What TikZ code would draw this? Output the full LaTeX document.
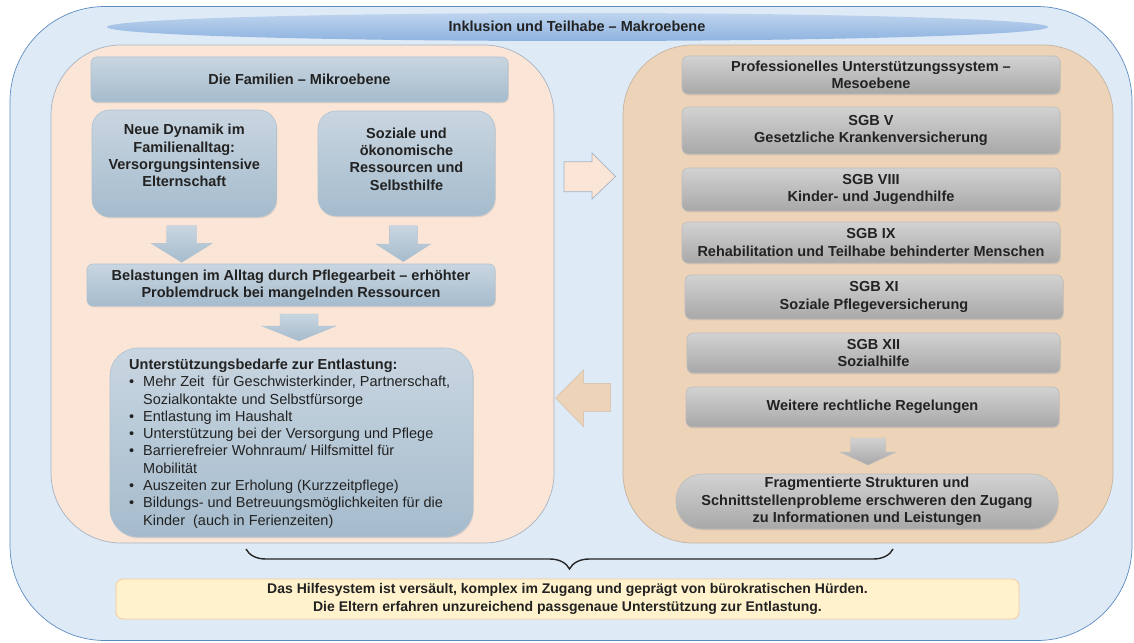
\documentclass[tikz,border=0pt]{standalone}
\usepackage{fontspec}
\setmainfont{Liberation Sans}
\usetikzlibrary{shapes.geometric,shadows,decorations.pathreplacing}
\definecolor{outerfill}{HTML}{DEEBF7}
\definecolor{outerdraw}{HTML}{5E8BC2}
\definecolor{elltop}{HTML}{BED4EE}
\definecolor{ellbot}{HTML}{8EB3E0}
\definecolor{peach}{HTML}{FBE5D6}
\definecolor{peachdraw}{HTML}{A7B3C2}
\definecolor{tan}{HTML}{EDD4B9}
\definecolor{tandraw}{HTML}{C4B4A2}
\definecolor{btop}{HTML}{C9D6E1}
\definecolor{bbot}{HTML}{A5BBCC}
\definecolor{bdraw}{HTML}{AFC2D2}
\definecolor{gtop}{HTML}{D2D2D2}
\definecolor{gbot}{HTML}{A8A8A8}
\definecolor{gdraw}{HTML}{BDBDBD}
\definecolor{yel}{HTML}{FFF2CC}
\definecolor{yeldraw}{HTML}{F6C89A}
\definecolor{txt}{HTML}{222222}
\newcommand\lblfont{\fontsize{14.5pt}{17.3pt}\selectfont\bfseries}
\newcommand\listfont{\fontsize{14.5pt}{17.3pt}\selectfont}
\newcommand\bul{\makebox[14pt][l]{•}}
\begin{document}
\begin{tikzpicture}[x=1pt,y=-1pt,
  container/.style={draw, line width=0.7pt, inner sep=0pt},
  bluebox/.style={draw=bdraw, line width=0.6pt, top color=btop, bottom color=bbot,
    rounded corners=6pt, inner sep=2pt, align=center, font=\lblfont, text=txt,
    drop shadow={opacity=0.18, shadow xshift=0.8pt, shadow yshift=-1.3pt}},
  graybox/.style={draw=gdraw, line width=0.6pt, top color=gtop, bottom color=gbot,
    rounded corners=6pt, inner sep=2pt, align=center, font=\lblfont, text=txt,
    drop shadow={opacity=0.18, shadow xshift=0.8pt, shadow yshift=-1.3pt}},
  bluearrow/.style={top color=btop, bottom color=bbot, draw=bdraw, line width=0.4pt},
  grayarrow/.style={top color=gtop, bottom color=gbot, draw=gdraw, line width=0.4pt}
]
\useasboundingbox (0,0) rectangle (1134,642);

% outer macro level
\node[container, draw=outerdraw, fill=outerfill, rounded corners=95pt,
  minimum width=1122pt, minimum height=634pt] (outer) at (571,323.5) {};
\node[ellipse, top color=elltop, bottom color=ellbot, inner sep=0pt,
  minimum width=941pt, minimum height=28pt] (makro) at (577.5,27) {};
\node[font=\lblfont, text=txt] (makrot) at (577,26) {Inklusion und Teilhabe – Makroebene};

% containers
\node[container, draw=peachdraw, fill=peach, rounded corners=70pt,
  minimum width=503pt, minimum height=498pt] (left) at (302.5,294) {};
\node[container, draw=tandraw, fill=tan, rounded corners=70pt,
  minimum width=490pt, minimum height=498pt] (right) at (868,294) {};

% left side
\node[bluebox, minimum width=417pt, minimum height=45pt] (fam) at (299.5,79.5) {Die Familien – Mikroebene};
\node[bluebox, rounded corners=18pt, minimum width=184.5pt, minimum height=107pt] (neue) at (184.25,163.5) {};
\node[font=\lblfont, text=txt, align=center] (neuet) at (184.25,155.5) {Neue Dynamik im\\Familienalltag:\\Versorgungsintensive\\Elternschaft};
\node[bluebox, rounded corners=18pt, minimum width=177pt, minimum height=105pt] (soz) at (406.5,163.5) {};
\node[font=\lblfont, text=txt, align=center] (sozt) at (406.5,159) {Soziale und\\ökonomische\\Ressourcen und\\Selbsthilfe};
\node[bluebox, minimum width=408pt, minimum height=42pt] (bel) at (291,285) {Belastungen im Alltag durch Pflegearbeit – erhöhter\\Problemdruck bei mangelnden Ressourcen};
\node[bluebox, rounded corners=28pt, minimum width=363pt, minimum height=189pt] (unt) at (291.5,442.5) {};
\node[anchor=west, align=left, text=txt, font=\listfont, inner sep=0pt] (untt) at (129,443.5) {%
  \textbf{Unterstützungsbedarfe zur Entlastung:}\\
  \bul Mehr Zeit \ für Geschwisterkinder, Partnerschaft,\\
  \hspace*{14pt}Sozialkontakte und Selbstfürsorge\\
  \bul Entlastung im Haushalt\\
  \bul Unterstützung bei der Versorgung und Pflege\\
  \bul Barrierefreier Wohnraum/ Hilfsmittel für\\
  \hspace*{14pt}Mobilität\\
  \bul Auszeiten zur Erholung (Kurzzeitpflege)\\
  \bul Bildungs- und Betreuungsmöglichkeiten für die\\
  \hspace*{14pt}Kinder \ (auch in Ferienzeiten)};

% left block arrows
\path[bluearrow] (166.7,225.7) -- (196.7,225.7) -- (196.7,243.3) -- (212.2,243.3)
  -- (181.7,262.3) -- (151.2,243.3) -- (166.7,243.3) -- cycle;
\path[bluearrow] (389.3,225.7) -- (417.3,225.7) -- (417.3,244) -- (430.6,244)
  -- (403.3,261.7) -- (376,244) -- (389.3,244) -- cycle;
\path[bluearrow] (280,314) -- (318,314) -- (318,326) -- (336,326)
  -- (299,341) -- (262,326) -- (280,326) -- cycle;

% right side
\node[graybox, minimum width=378pt, minimum height=38pt] (pro) at (871,75) {Professionelles Unterstützungssystem –\\Mesoebene};
\node[graybox, minimum width=378pt, minimum height=47pt] (sgb5) at (871,130.5) {SGB V\\Gesetzliche Krankenversicherung};
\node[graybox, minimum width=378pt, minimum height=43pt] (sgb8) at (871,189.5) {SGB VIII\\Kinder- und Jugendhilfe};
\node[graybox, minimum width=378pt, minimum height=41pt] (sgb9) at (871,242.5) {SGB IX\\Rehabilitation und Teilhabe behinderter Menschen};
\node[graybox, minimum width=378pt, minimum height=44pt] (sgb11) at (874,297) {SGB XI\\Soziale Pflegeversicherung};
\node[graybox, minimum width=373pt, minimum height=40pt] (sgb12) at (873.5,353) {SGB XII\\Sozialhilfe};
\node[graybox, minimum width=373pt, minimum height=40pt] (weit) at (872.5,407) {Weitere rechtliche Regelungen};
\path[grayarrow] (850.5,438) -- (885.5,438) -- (885.5,452) -- (896,452)
  -- (868,465) -- (840,452) -- (850.5,452) -- cycle;
\node[graybox, rounded corners=26pt, minimum width=382pt, minimum height=55pt] (frag) at (867,501.5) {Fragmentierte Strukturen und\\Schnittstellenprobleme erschweren den Zugang\\zu Informationen und Leistungen};

% arrows between containers
\path[fill=peach, draw=peachdraw, line width=0.7pt] (564,161.7) -- (592,161.7) -- (592,153)
  -- (615.5,176.5) -- (592,199) -- (592,191.7) -- (564,191.7) -- cycle;
\path[fill=tan, draw=tandraw!70!tan, line width=0.5pt] (610.7,383.3) -- (583.5,383.3) -- (583.5,370)
  -- (555.6,398) -- (583.5,426.7) -- (583.5,411.7) -- (610.7,411.7) -- cycle;

% brace and conclusion
\coordinate (brR) at (893,549);
\coordinate (brL) at (246,549);
\draw[decorate, decoration={brace, amplitude=20pt}, line width=1.4pt, draw=black!85] (brR) -- (brL);
\node[draw=yeldraw, line width=0.8pt, fill=yel, rounded corners=7pt, minimum width=903pt,
  minimum height=40pt, align=center, text=txt, font=\fontsize{14pt}{18.3pt}\selectfont\bfseries] (fazit) at (567.5,599)
  {Das Hilfesystem ist versäult, komplex im Zugang und geprägt von bürokratischen Hürden.\\
   Die Eltern erfahren unzureichend passgenaue Unterstützung zur Entlastung.};
\end{tikzpicture}
\end{document}
